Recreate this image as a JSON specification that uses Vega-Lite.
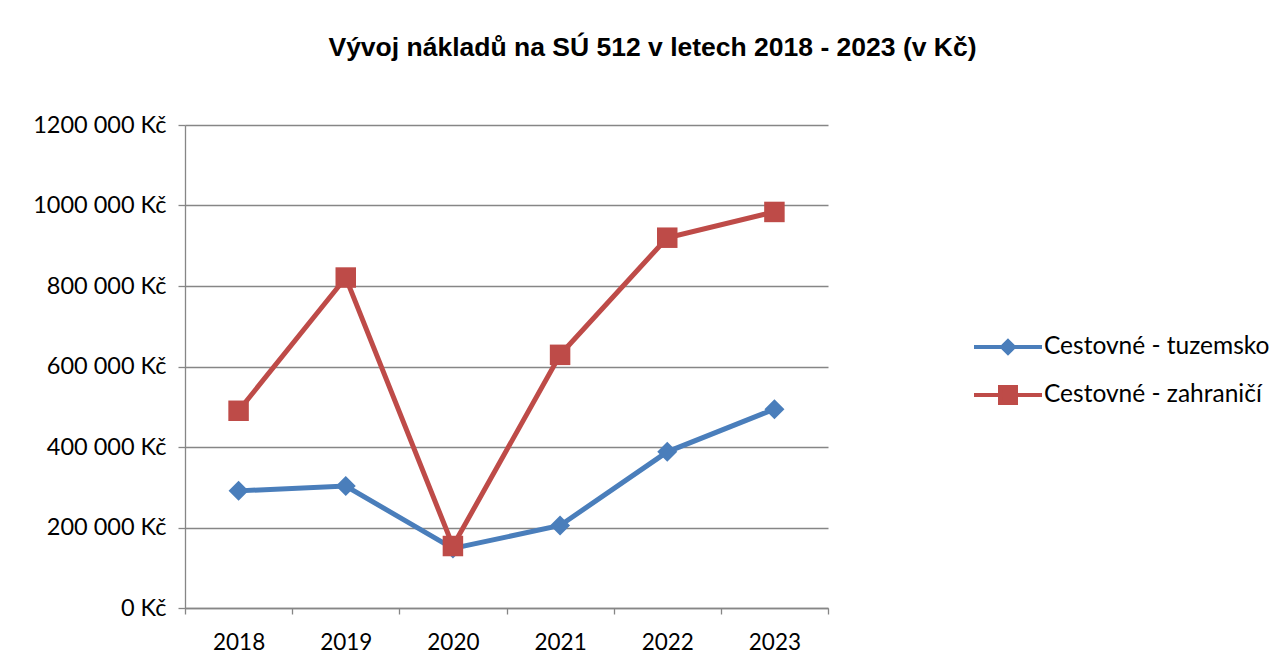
{
  "$schema": "https://vega.github.io/schema/vega-lite/v6.json",
  "autosize": "none",
  "width": 643,
  "height": 483,
  "padding": {"left": 185, "top": 125, "right": 459, "bottom": 62},
  "background": "white",
  "title": {
    "text": "Vývoj nákladů na SÚ 512 v letech 2018 - 2023 (v Kč)",
    "font": "Liberation Sans",
    "fontSize": 26.5,
    "fontWeight": "bold",
    "color": "#000000",
    "anchor": "middle",
    "frame": "group",
    "dx": 146,
    "offset": 52
  },
  "data": {
    "values": [
      {"rok": "2018", "serie": "Cestovné - tuzemsko", "naklady": 291000},
      {"rok": "2019", "serie": "Cestovné - tuzemsko", "naklady": 303000},
      {"rok": "2020", "serie": "Cestovné - tuzemsko", "naklady": 148000},
      {"rok": "2021", "serie": "Cestovné - tuzemsko", "naklady": 205000},
      {"rok": "2022", "serie": "Cestovné - tuzemsko", "naklady": 388000},
      {"rok": "2023", "serie": "Cestovné - tuzemsko", "naklady": 494000},
      {"rok": "2018", "serie": "Cestovné - zahraničí", "naklady": 490000},
      {"rok": "2019", "serie": "Cestovné - zahraničí", "naklady": 821000},
      {"rok": "2020", "serie": "Cestovné - zahraničí", "naklady": 154000},
      {"rok": "2021", "serie": "Cestovné - zahraničí", "naklady": 629000},
      {"rok": "2022", "serie": "Cestovné - zahraničí", "naklady": 920000},
      {"rok": "2023", "serie": "Cestovné - zahraničí", "naklady": 984000}
    ]
  },
  "encoding": {
    "x": {
      "field": "rok",
      "type": "ordinal",
      "scale": {"type": "band", "paddingInner": 0, "paddingOuter": 0},
      "axis": {
        "title": null,
        "labelAngle": 0,
        "tickBand": "extent",
        "labelFont": "Lato",
        "labelFontSize": 22.5,
        "labelColor": "#000000",
        "labelPadding": 17,
        "tickSize": 6,
        "tickColor": "#868686",
        "domainColor": "#868686",
        "tickWidth": 1.3,
        "domainWidth": 1.3,
        "grid": false
      }
    },
    "y": {
      "field": "naklady",
      "type": "quantitative",
      "scale": {"domain": [0, 1200000], "nice": false},
      "axis": {
        "title": null,
        "values": [0, 200000, 400000, 600000, 800000, 1000000, 1200000],
        "labelExpr": "datum.value == 0 ? '0 Kč' : floor(datum.value / 1000) + ' 000 Kč'",
        "labelFont": "Lato",
        "labelFontSize": 23.5,
        "labelColor": "#000000",
        "labelPadding": 12,
        "tickSize": 7,
        "tickColor": "#868686",
        "domainColor": "#868686",
        "tickWidth": 1.3,
        "domainWidth": 1.3,
        "grid": true,
        "gridColor": "#868686",
        "gridWidth": 1.3
      }
    }
  },
  "layer": [
    {
      "mark": {"type": "line", "strokeWidth": 5},
      "encoding": {
        "color": {
          "field": "serie",
          "type": "nominal",
          "scale": {
            "domain": ["Cestovné - tuzemsko", "Cestovné - zahraničí"],
            "range": ["#4A7EBB", "#BE4B48"]
          },
          "legend": {
            "title": null,
            "orient": "none",
            "legendX": 804,
            "legendY": 203,
            "padding": 0,
            "symbolSize": 1156,
            "labelOffset": 17,
            "rowPadding": 15,
            "labelFont": "Lato",
            "labelFontSize": 24.5,
            "labelColor": "#000000",
            "labelLimit": 400,
            "encode": {
              "symbols": {
                "update": {
                  "shape": {"signal": "datum.value === 'Cestovné - tuzemsko' ? 'M-2,0L2,0M0,-0.35L0.35,0L0,0.35L-0.35,0Z' : 'M-2,0L2,0M-0.47,-0.47L0.47,-0.47L0.47,0.47L-0.47,0.47Z'"},
                  "fill": {"scale": "color", "field": "value"},
                  "stroke": {"scale": "color", "field": "value"},
                  "strokeWidth": {"value": 4},
                  "opacity": {"value": 1},
                  "fillOpacity": {"value": 1}
                }
              }
            }
          }
        }
      }
    },
    {
      "transform": [{"filter": "datum.serie === 'Cestovné - tuzemsko'"}],
      "mark": {"type": "point", "filled": true, "opacity": 1, "shape": "diamond", "size": 400, "color": "#4A7EBB"},
      "encoding": {}
    },
    {
      "transform": [{"filter": "datum.serie === 'Cestovné - zahraničí'"}],
      "mark": {"type": "point", "filled": true, "opacity": 1, "shape": "square", "size": 420, "color": "#BE4B48"},
      "encoding": {}
    }
  ],
  "config": {
    "view": {"stroke": null}
  }
}
